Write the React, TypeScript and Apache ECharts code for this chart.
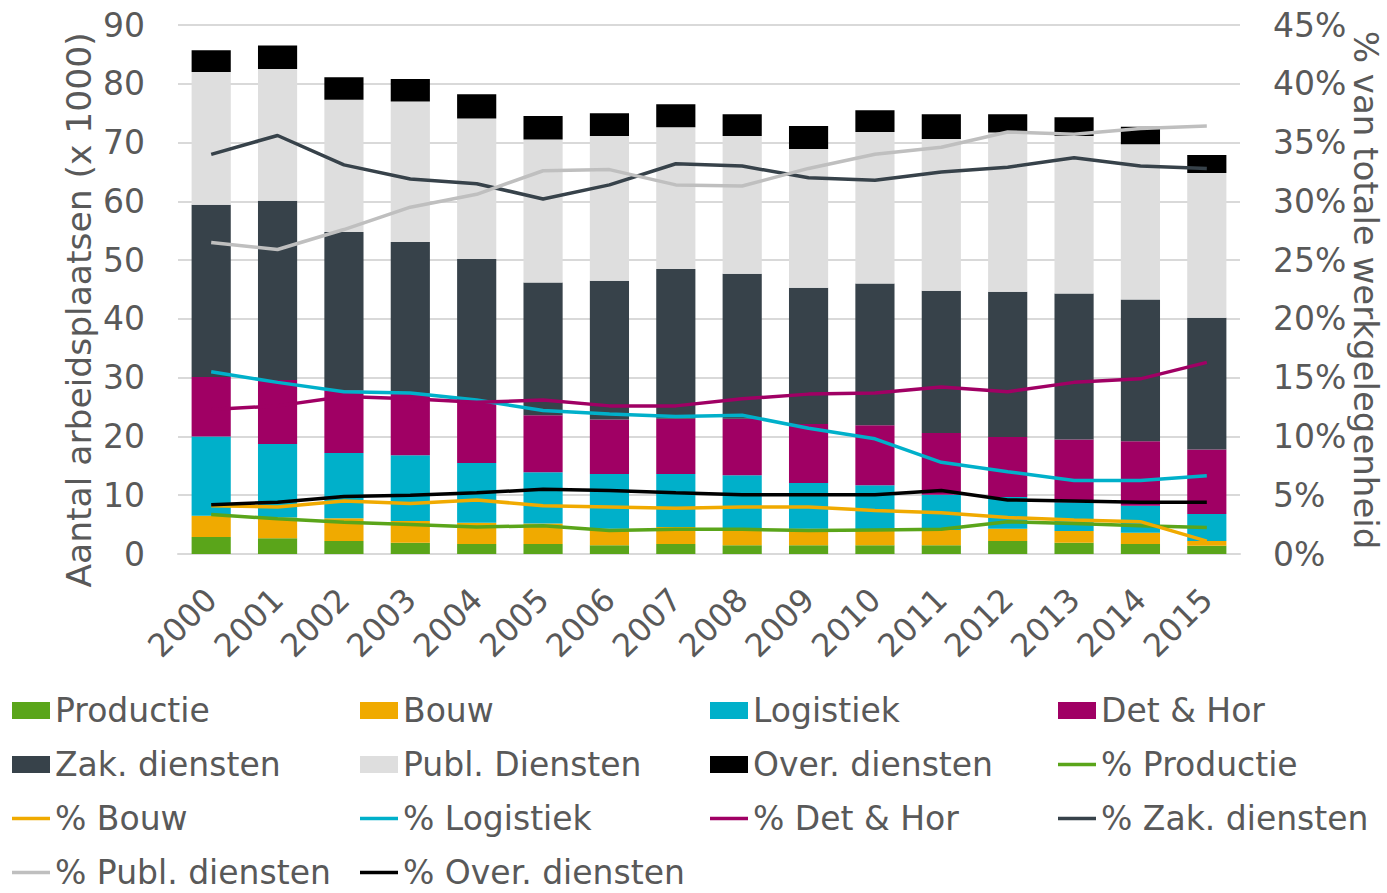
import React, { useEffect, useRef } from "react";
import * as echarts from "echarts";

const years = ["2000", "2001", "2002", "2003", "2004", "2005", "2006", "2007", "2008", "2009", "2010", "2011", "2012", "2013", "2014", "2015"];

// Bars: number of jobs (x 1000), stacked segments
const productie = [2.9, 2.7, 2.2, 1.9, 1.7, 1.7, 1.5, 1.7, 1.5, 1.5, 1.5, 1.5, 2.2, 1.9, 1.7, 1.4];
const bouw = [3.6, 3.5, 3.9, 3.7, 3.6, 3.5, 2.8, 2.9, 2.9, 2.8, 2.7, 2.6, 2.1, 2.0, 1.9, 0.8];
const logistiek = [13.5, 12.5, 11.1, 11.2, 10.2, 8.7, 9.3, 9.0, 9.0, 7.8, 7.5, 6.0, 5.4, 4.9, 4.6, 4.6];
const detHor = [10.1, 10.9, 10.6, 10.5, 10.5, 9.7, 9.3, 9.4, 9.6, 10.0, 10.2, 10.5, 10.2, 10.7, 11.0, 11.0];
const zakDiensten = [29.3, 30.5, 27.0, 25.8, 24.2, 22.6, 23.6, 25.5, 24.7, 23.2, 24.1, 24.2, 24.7, 24.8, 24.1, 22.4];
const publDiensten = [22.6, 22.4, 22.5, 23.9, 23.9, 24.3, 24.6, 24.1, 23.4, 23.6, 25.8, 25.8, 27.1, 26.8, 26.4, 24.6];
const overDiensten = [3.7, 4.0, 3.8, 3.8, 4.1, 4.0, 3.9, 3.9, 3.7, 3.9, 3.7, 4.2, 3.1, 3.2, 3.0, 3.1];

// Lines: share of total employment (%)
const pProductie = [3.35, 3.0, 2.7, 2.5, 2.3, 2.4, 2.0, 2.1, 2.1, 2.0, 2.05, 2.1, 2.75, 2.6, 2.4, 2.25];
const pBouw = [4.1, 4.0, 4.5, 4.3, 4.6, 4.1, 4.0, 3.9, 4.0, 4.0, 3.7, 3.5, 3.1, 2.9, 2.75, 1.1];
const pLogistiek = [15.5, 14.6, 13.8, 13.7, 13.1, 12.2, 11.9, 11.7, 11.8, 10.7, 9.8, 7.8, 7.0, 6.25, 6.25, 6.65];
const pDetHor = [12.3, 12.6, 13.4, 13.2, 12.9, 13.1, 12.6, 12.6, 13.2, 13.6, 13.7, 14.2, 13.8, 14.6, 14.9, 16.3];
const pZak = [34.0, 35.6, 33.1, 31.9, 31.5, 30.2, 31.4, 33.2, 33.0, 32.0, 31.8, 32.5, 32.9, 33.7, 33.0, 32.8];
const pPubl = [26.5, 25.9, 27.6, 29.5, 30.6, 32.6, 32.7, 31.4, 31.3, 32.8, 34.0, 34.6, 35.9, 35.7, 36.2, 36.4];
const pOver = [4.2, 4.4, 4.9, 5.0, 5.2, 5.5, 5.4, 5.2, 5.05, 5.05, 5.05, 5.4, 4.6, 4.5, 4.4, 4.4];

const leftTitle = "Aantal arbeidsplaatsen (x 1000)";
const rightTitle = "% van totale werkgelegenheid";

const FONT = "'DejaVu Sans', Verdana, sans-serif";
const TXT = "#595959";
const GRID = "#d9d9d9";

const C = {
  prod: "#5aa51a",
  bouw: "#f0aa00",
  log: "#00b0ca",
  det: "#a00064",
  zak: "#37424a",
  publ: "#dedede",
  over: "#000000",
  publLine: "#bfbfbf",
};

const LINE_ICON = "path://M0,0H38V3.5H0Z";

function bar(name: string, data: number[], color: string) {
  return {
    name,
    type: "bar",
    stack: "jobs",
    yAxisIndex: 0,
    barCategoryGap: "41%",
    itemStyle: { color },
    data,
    z: 2,
  };
}

function line(name: string, data: number[], color: string) {
  return {
    name,
    type: "line",
    yAxisIndex: 1,
    symbol: "none",
    showSymbol: false,
    lineStyle: { color, width: 3.5 },
    itemStyle: { color },
    data,
    z: 5,
  };
}

const rectItem = (name: string) => ({ name, icon: "rect" });
const lineItem = (name: string) => ({ name, icon: LINE_ICON });

export default function App() {
  const ref = useRef<HTMLDivElement>(null);
  useEffect(() => {
    const chart = echarts.init(ref.current!, null, { renderer: "svg" });
    const legendBase = {
      orient: "vertical",
      top: 694,
      height: 260,
      padding: 0,
      itemWidth: 38,
      itemHeight: 17,
      itemGap: 21,
      symbolKeepAspect: true,
      textStyle: { fontSize: 33, color: TXT, fontFamily: FONT, lineHeight: 32 },
    };
    chart.setOption({
      animation: false,
      backgroundColor: "#ffffff",
      textStyle: { fontFamily: FONT },
      grid: { left: 178, right: 147, top: 25, bottom: 339, containLabel: false, outerBoundsMode: "none" },
      legend: [
        { ...legendBase, left: 12, data: [rectItem("Productie"), rectItem("Zak. diensten"), lineItem("% Bouw"), lineItem("% Publ. diensten")] },
        { ...legendBase, left: 360, data: [rectItem("Bouw"), rectItem("Publ. Diensten"), lineItem("% Logistiek"), lineItem("% Over. diensten")] },
        { ...legendBase, left: 710, data: [rectItem("Logistiek"), rectItem("Over. diensten"), lineItem("% Det & Hor")] },
        { ...legendBase, left: 1058, data: [rectItem("Det & Hor"), lineItem("% Productie"), lineItem("% Zak. diensten")] },
      ],
      xAxis: {
        type: "category",
        data: years,
        axisLine: { show: true, lineStyle: { color: GRID, width: 2 } },
        axisTick: { show: false },
        axisLabel: { rotate: 45, fontSize: 32, color: TXT, fontFamily: FONT, margin: 40, interval: 0 },
      },
      yAxis: [
        {
          type: "value",
          min: 0,
          max: 90,
          interval: 10,
          axisLine: { show: false },
          axisTick: { show: false },
          splitLine: { show: true, lineStyle: { color: GRID, width: 2 } },
          axisLabel: { fontSize: 33, color: TXT, fontFamily: FONT, margin: 33 },
        },
        {
          type: "value",
          position: "right",
          min: 0,
          max: 45,
          interval: 5,
          axisLine: { show: false },
          axisTick: { show: false },
          splitLine: { show: false },
          axisLabel: { fontSize: 33, color: TXT, fontFamily: FONT, margin: 33, formatter: "{value}%" },
        },
      ],
      graphic: [
        {
          type: "text",
          x: 79,
          y: 310,
          rotation: Math.PI / 2,
          style: { text: leftTitle, fontSize: 34.5, lineHeight: 34, fontFamily: FONT, fill: TXT, align: "center", verticalAlign: "middle" },
        },
        {
          type: "text",
          x: 1366,
          y: 290,
          rotation: -Math.PI / 2,
          style: { text: rightTitle, fontSize: 34, lineHeight: 34, fontFamily: FONT, fill: TXT, align: "center", verticalAlign: "middle" },
        },
      ],
      series: [
        bar("Productie", productie, C.prod),
        bar("Bouw", bouw, C.bouw),
        bar("Logistiek", logistiek, C.log),
        bar("Det & Hor", detHor, C.det),
        bar("Zak. diensten", zakDiensten, C.zak),
        bar("Publ. Diensten", publDiensten, C.publ),
        bar("Over. diensten", overDiensten, C.over),
        line("% Productie", pProductie, C.prod),
        line("% Bouw", pBouw, C.bouw),
        line("% Logistiek", pLogistiek, C.log),
        line("% Det & Hor", pDetHor, C.det),
        line("% Zak. diensten", pZak, C.zak),
        line("% Publ. diensten", pPubl, C.publLine),
        line("% Over. diensten", pOver, C.over),
      ],
    });
    return () => chart.dispose();
  }, []);
  return (
    <div
      ref={ref}
      style={{ position: "fixed", left: 0, top: 0, width: 1387, height: 893, background: "#ffffff" }}
    />
  );
}
